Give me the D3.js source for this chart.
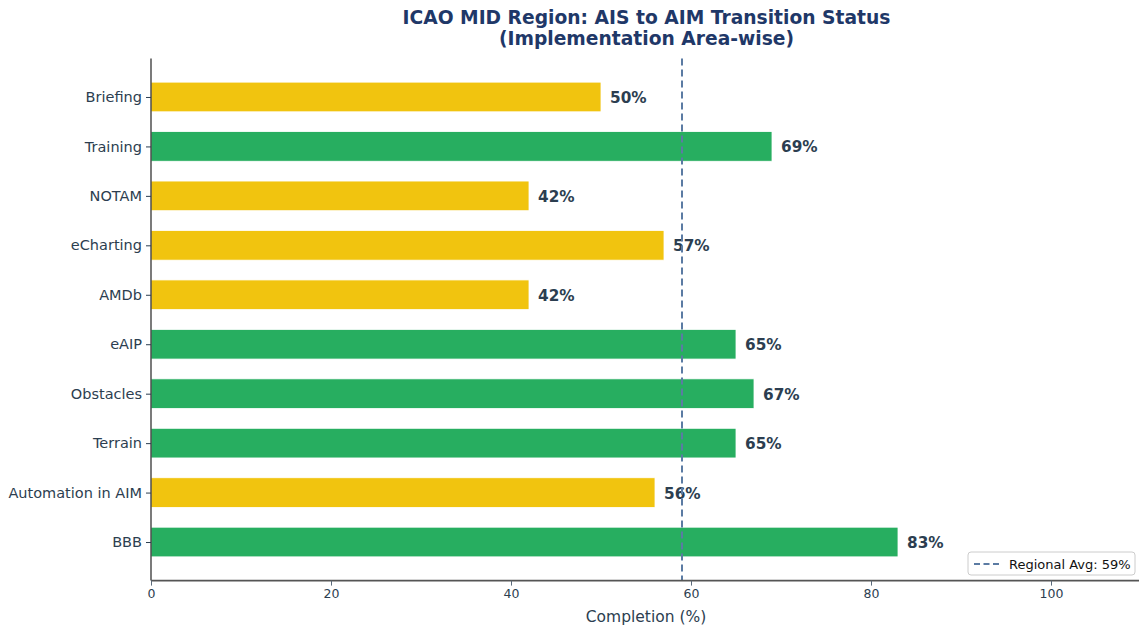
<!DOCTYPE html>
<html><head><meta charset="utf-8">
<script src="https://cdn.jsdelivr.net/npm/d3@7"></script>
<style>body{margin:0;background:#fff;}svg{display:block;font-family:"DejaVu Sans",sans-serif;}</style>
</head><body>
<svg id="c" width="1139" height="628"></svg>
<script>
const categories = ["Briefing","Training","NOTAM","eCharting","AMDb","eAIP","Obstacles","Terrain","Automation in AIM","BBB"];
const values = [50,69,42,57,42,65,67,65,56,83];
const xTicks = [0,20,40,60,80,100];
const regionalAvg = 59;
const threshold = 60;

const svg = d3.select("#c");
const m = {left:151, right:1139, top:58.4, bottom:580.6};
const x = d3.scaleLinear().domain([0,110]).range([m.left, m.left + 110*9]);
const n = categories.length;
const y = d3.scaleLinear().domain([-0.78, n-1+0.78]).range([m.top, m.bottom]);
const bh = y(0.3)-y(-0.3);

// bars
svg.append("g").selectAll("rect").data(categories).join("rect")
  .attr("x", x(0)).attr("y", (d,i)=>y(i)-bh/2)
  .attr("width", (d,i)=>x(values[i])-x(0)).attr("height", bh)
  .attr("fill", (d,i)=> values[i] >= threshold ? "#27ae60" : "#f1c40f")
  .attr("stroke","#fff").attr("stroke-width",0.8);

// value labels
svg.append("g").selectAll("text").data(categories).join("text")
  .attr("x", (d,i)=>x(values[i])+9).attr("y", (d,i)=>y(i)+0.5)
  .attr("dy","0.36em").attr("font-size",15.3).attr("font-weight","bold").attr("fill","#2c3e50")
  .text((d,i)=>values[i]+"%");

// avg line
svg.append("line").attr("x1",x(regionalAvg)).attr("x2",x(regionalAvg))
  .attr("y1",m.top).attr("y2",m.bottom).attr("stroke","#5b7ba3").attr("stroke-width",2)
  .attr("stroke-dasharray","7,4");

// y axis
const ya = svg.append("g").attr("transform",`translate(${m.left},0)`)
  .call(d3.axisLeft(y).tickValues(d3.range(n)).tickFormat(i=>categories[i]).tickSize(5).tickPadding(4));
ya.select(".domain").attr("stroke","#222").attr("stroke-width",1.2).attr("d",`M0,${m.top}V${m.bottom}`);
ya.selectAll(".tick line").attr("stroke","#2c3e50");
ya.selectAll(".tick text").attr("font-size",14.5).attr("fill","#2c3e50").attr("font-family","DejaVu Sans");

// x axis
const xa = svg.append("g").attr("transform",`translate(0,${m.bottom})`)
  .call(d3.axisBottom(x).tickValues(xTicks).tickSize(5).tickPadding(4));
xa.select(".domain").attr("stroke","#555").attr("stroke-width",1.6).attr("d",`M${m.left},0H1139`);
xa.selectAll(".tick line").attr("stroke","#5a6a7a");
xa.selectAll(".tick text").attr("font-size",12.5).attr("fill","#2c3e50").attr("font-family","DejaVu Sans");

// x label
svg.append("text").attr("x", (x(0)+x(110))/2).attr("y",622).attr("text-anchor","middle")
  .attr("font-size",15.5).attr("fill","#2c3e50").text("Completion (%)");

// title
const title = svg.append("text").attr("x",646).attr("text-anchor","middle").attr("font-size",18.7)
  .attr("font-weight","bold").attr("fill","#1f3868");
title.append("tspan").attr("x",646.5).attr("y",24).text("ICAO MID Region: AIS to AIM Transition Status");
title.append("tspan").attr("x",646.5).attr("y",45).text("(Implementation Area-wise)");

// legend
const lg = svg.append("g");
lg.append("rect").attr("x",968).attr("y",552).attr("width",167).attr("height",23).attr("rx",3)
  .attr("fill","#fff").attr("fill-opacity",0.85).attr("stroke","#ccc");
lg.append("line").attr("x1",974).attr("x2",1000).attr("y1",564).attr("y2",564)
  .attr("stroke","#5b7ba3").attr("stroke-width",2).attr("stroke-dasharray","6,3.5");
lg.append("text").attr("x",1009).attr("y",564).attr("dy","0.36em").attr("font-size",13)
  .attr("fill","#111").text("Regional Avg: "+regionalAvg+"%");
</script>
</body></html>
